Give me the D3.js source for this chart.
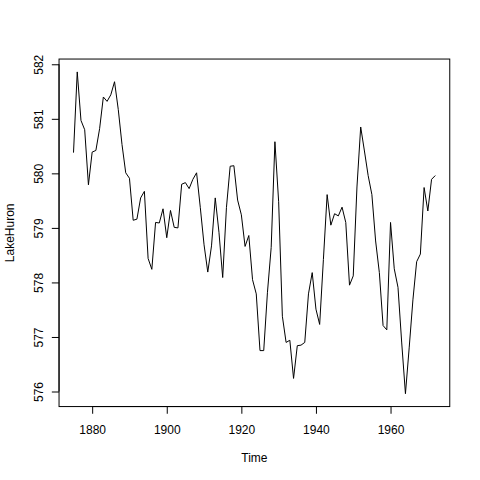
<!DOCTYPE html>
<html><head><meta charset="utf-8">
<script src="https://cdn.jsdelivr.net/npm/d3@7"></script>
<style>body{margin:0;background:#fff}svg{display:block}text{font-family:"Liberation Sans",Arial,sans-serif;font-size:12px;fill:#000}</style>
</head><body>
<script>
const startYear = 1875;
const levels = [580.38,581.86,580.97,580.80,579.79,580.39,580.42,580.82,581.40,581.32,
581.44,581.68,581.17,580.53,580.01,579.91,579.14,579.16,579.55,579.67,
578.44,578.24,579.10,579.09,579.35,578.82,579.32,579.01,579.00,579.80,
579.83,579.72,579.89,580.01,579.37,578.69,578.19,578.67,579.55,578.92,
578.09,579.37,580.13,580.14,579.51,579.24,578.66,578.86,578.05,577.79,
576.75,576.75,577.82,578.64,580.58,579.48,577.38,576.90,576.94,576.24,
576.84,576.85,576.90,577.79,578.18,577.51,577.23,578.42,579.61,579.05,
579.26,579.22,579.38,579.10,577.95,578.12,579.75,580.85,580.41,579.96,
579.61,578.76,578.18,577.21,577.13,579.10,578.25,577.91,576.89,575.96,
576.80,577.68,578.38,578.52,579.74,579.31,579.89,579.96];
const xTicks = [1880,1900,1920,1940,1960];
const yTicks = [576,577,578,579,580,581,582];
const xLabel = "Time", yLabel = "LakeHuron";

const data = levels.map((v,i)=>({t:startYear+i, v}));
const W=480,H=480, L=59.04, R=449.76, T=59.04, B=406.56;
const svg = d3.select("body").append("svg").attr("width",W).attr("height",H);
const xr = d3.extent(data,d=>d.t), yr = d3.extent(data,d=>d.v);
const xp=(xr[1]-xr[0])*0.04, yp=(yr[1]-yr[0])*0.04;
const x = d3.scaleLinear().domain([xr[0]-xp,xr[1]+xp]).range([L,R]);
const y = d3.scaleLinear().domain([yr[0]-yp,yr[1]+yp]).range([B,T]);

svg.append("path").datum(data)
  .attr("d", d3.line().x(d=>x(d.t)).y(d=>y(d.v)))
  .attr("fill","none").attr("stroke","#000").attr("stroke-width",1);

svg.append("rect").attr("x",L).attr("y",T).attr("width",R-L).attr("height",B-T)
  .attr("fill","none").attr("stroke","#000").attr("stroke-width",1);

const xa = svg.append("g").attr("transform",`translate(0,${B})`)
  .call(d3.axisBottom(x).tickValues(xTicks).tickFormat(d3.format("d")).tickSize(7.2).tickSizeOuter(0));
xa.select(".domain").attr("d",`M${x(xTicks[0])},0H${x(xTicks[xTicks.length-1])}`);
xa.selectAll("text").attr("dy",null).attr("y",27).style("font-size","12px").style("font-family","Liberation Sans, Arial, sans-serif");

const ya = svg.append("g").attr("transform",`translate(${L},0)`)
  .call(d3.axisLeft(y).tickValues(yTicks).tickFormat(d3.format("d")).tickSize(7.2).tickSizeOuter(0));
ya.select(".domain").attr("d",`M0,${y(yTicks[0])}V${y(yTicks[yTicks.length-1])}`);
ya.selectAll("text").attr("x",null).attr("dy",null).attr("text-anchor","middle")
  .attr("transform","translate(-16,0) rotate(-90)")
  .style("font-size","12px").style("font-family","Liberation Sans, Arial, sans-serif");
svg.selectAll(".tick line, .domain").attr("stroke","#000");

svg.append("text").attr("x",(L+R)/2).attr("y",462).attr("text-anchor","middle").text(xLabel);
svg.append("text").attr("transform",`translate(14,${(T+B)/2}) rotate(-90)`).attr("text-anchor","middle").text(yLabel);
</script>
</body></html>
